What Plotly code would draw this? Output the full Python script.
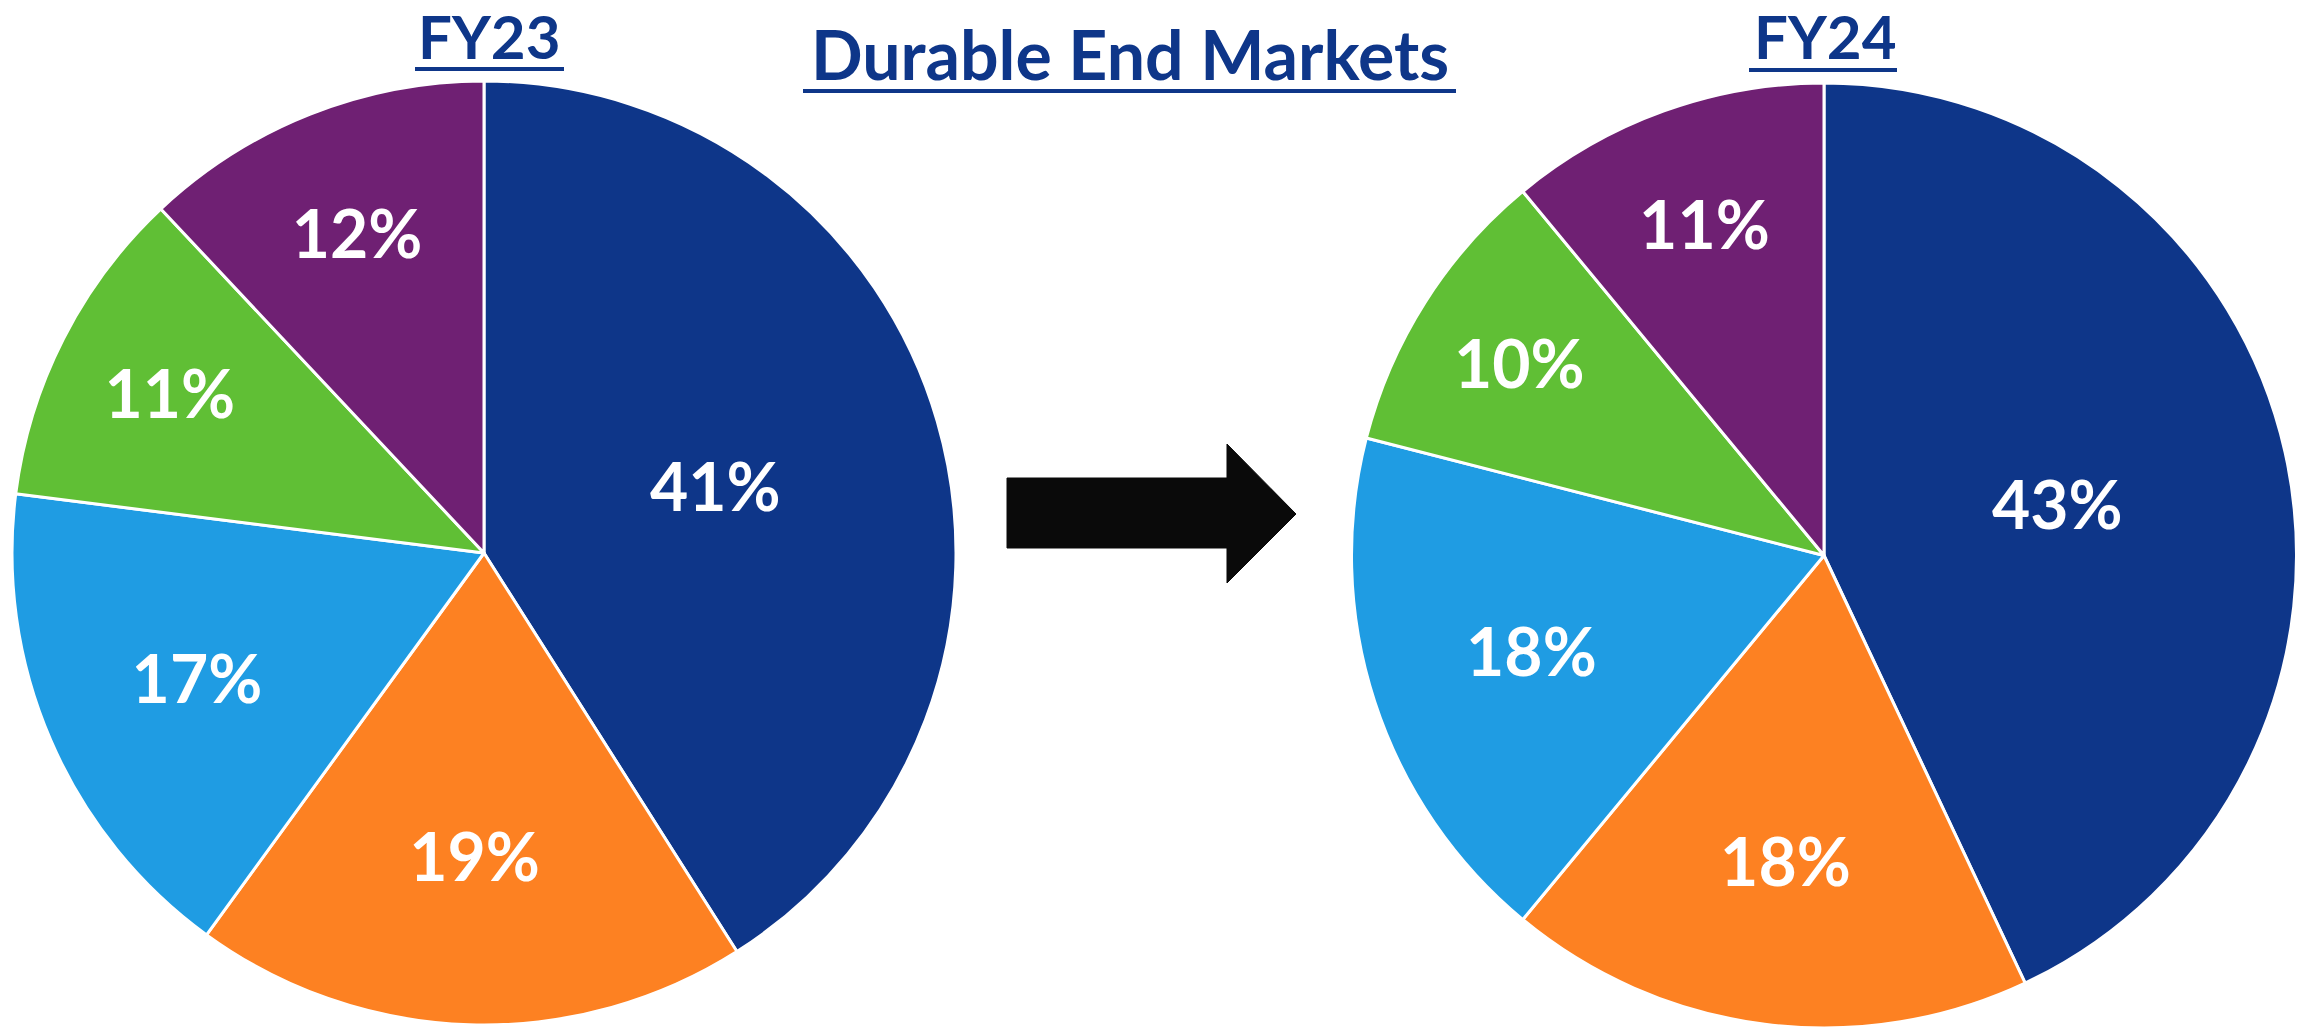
import plotly.graph_objects as go

W, H = 2306, 1028

segments = ["Segment A", "Segment B", "Segment C", "Segment D", "Segment E"]
fy23_values = [41, 19, 17, 11, 12]
fy24_values = [43, 18, 18, 10, 11]
slice_colors = ["#0E3689", "#FD8122", "#1F9CE3", "#60BF35", "#6F2073"]
panel_titles = ["FY23", "FY24"]
main_title = "Durable End Markets"

navy = "#0E3689"
label_font = dict(family="Lato", size=66, color="white")


def pie(values, dom_x, dom_y):
    return go.Pie(
        labels=segments,
        values=values,
        sort=False,
        direction="clockwise",
        rotation=0,
        marker=dict(colors=slice_colors, line=dict(color="white", width=3)),
        texttemplate="<b>%{value}%</b>",
        textposition="inside",
        insidetextorientation="horizontal",
        insidetextfont=label_font,
        hoverinfo="label+value",
        showlegend=False,
        domain=dict(x=dom_x, y=dom_y),
    )


fig = go.Figure()
fig.add_trace(pie(fy23_values, [12 / W, 956 / W], [1 - 1025 / H, 1 - 81 / H]))
fig.add_trace(pie(fy24_values, [1351 / W, 2297 / W], [0, 1 - 83 / H]))


def px(x):
    return x / W


def py(y):
    return 1 - y / H


annotations = [
    dict(text="<b>%s</b>" % panel_titles[0], x=px(489), y=py(36), font=dict(family="Lato", size=60, color=navy)),
    dict(text="<b>%s</b>" % panel_titles[1], x=px(1825), y=py(36), font=dict(family="Lato", size=60, color=navy)),
    dict(text="<b>%s</b>" % main_title, x=px(1130), y=py(53), font=dict(family="Lato", size=68, color=navy)),
]
for a in annotations:
    a.update(xref="paper", yref="paper", xanchor="center", yanchor="middle", showarrow=False)

shapes = [
    dict(type="line", x0=px(415), x1=px(564), y0=py(69), y1=py(69), line=dict(color=navy, width=4)),
    dict(type="line", x0=px(1749), x1=px(1897), y0=py(70), y1=py(70), line=dict(color=navy, width=4)),
    dict(type="line", x0=px(803), x1=px(1456), y0=py(91), y1=py(91), line=dict(color=navy, width=4)),
]
arrow_pts = [(1007, 478), (1227, 478), (1227, 444), (1296, 514), (1227, 583), (1227, 548), (1007, 548)]
path = "M " + " L ".join("%f,%f" % (px(x), py(y)) for x, y in arrow_pts) + " Z"
shapes.append(dict(type="path", path=path, xref="paper", yref="paper", fillcolor="#0A0A0A", line=dict(color="#0A0A0A", width=1)))
for s in shapes:
    s.setdefault("xref", "paper")
    s.setdefault("yref", "paper")

fig.update_layout(
    width=W,
    height=H,
    margin=dict(l=0, r=0, t=0, b=0),
    paper_bgcolor="white",
    plot_bgcolor="white",
    annotations=annotations,
    shapes=shapes,
)

fig.write_html("out.html", config={"displayModeBar": False})
